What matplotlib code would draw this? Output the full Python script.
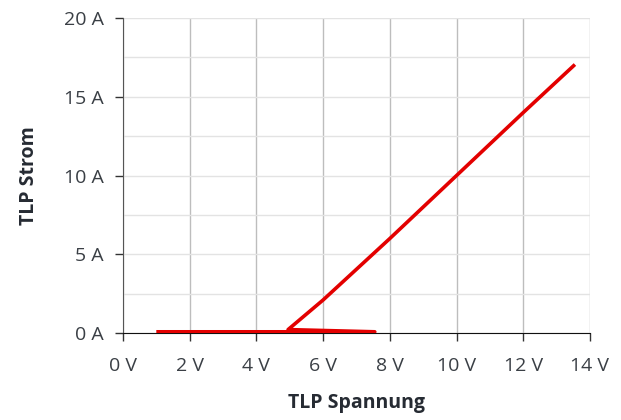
import matplotlib
matplotlib.use("Agg")
import matplotlib.pyplot as plt
from matplotlib.ticker import MultipleLocator, FuncFormatter

# TLP curve (snapback trace)
volt = [1.0, 5.0, 7.55, 4.95, 6.0, 8.0, 10.0, 12.0, 13.55]
amp = [0.08, 0.08, 0.08, 0.22, 2.1, 6.0, 10.0, 14.0, 17.05]

plt.rcParams['font.family'] = ['Open Sans', 'DejaVu Sans']

fig = plt.figure(figsize=(6.21, 4.2), dpi=100)
ax = fig.add_axes([0.198, 0.207, 0.752, 0.750])

ax.plot(volt, amp, color='#e30000', lw=2.6, solid_capstyle='butt', zorder=3)

ax.set_xlim(0, 14)
ax.set_ylim(0, 20)
ax.xaxis.set_major_locator(MultipleLocator(2))
ax.yaxis.set_major_locator(MultipleLocator(5))
ax.yaxis.set_minor_locator(MultipleLocator(2.5))
ax.xaxis.set_major_formatter(FuncFormatter(lambda v, p: f"{v:.0f} V"))
ax.yaxis.set_major_formatter(FuncFormatter(lambda v, p: f"{v:.0f} A"))

ax.grid(axis='x', which='major', color='#bdbdbd', lw=1)
ax.grid(axis='y', which='both', color='#e3e3e3', lw=1)
ax.tick_params(axis='y', which='minor', length=0)
ax.tick_params(which='major', length=6, width=1, color='#333333',
               labelsize=14, labelcolor='#3a3f45')
ax.tick_params(axis='x', pad=11)
ax.tick_params(axis='y', pad=8)

for s in ['top', 'right']:
    ax.spines[s].set_visible(False)
ax.spines['left'].set_color('#555555')
ax.spines['bottom'].set_color('#111111')

ax.set_xlabel('TLP Spannung', fontsize=14, fontweight='bold', color='#262b33', labelpad=13)
ax.set_ylabel('TLP Strom', fontsize=14, fontweight='bold', color='#262b33', labelpad=18)

fig.savefig('out.png', dpi=100)
